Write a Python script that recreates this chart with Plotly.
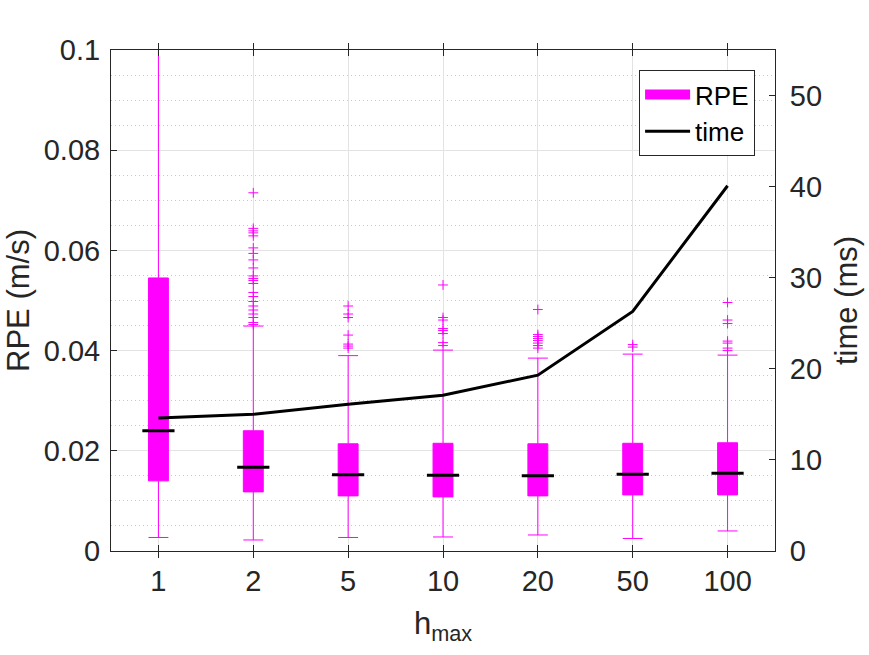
import plotly.graph_objects as go

# ---------------- data ----------------
h_max_labels = ['1', '2', '5', '10', '20', '50', '100']

rpe_lower = [0.0027, 0.0022, 0.0027, 0.0028, 0.0032, 0.0025, 0.0040]
rpe_q1 = [0.0140, 0.0118, 0.0110, 0.0108, 0.0110, 0.0112, 0.0112]
rpe_median = [0.0240, 0.0167, 0.0152, 0.0151, 0.0150, 0.0153, 0.0155]
rpe_q3 = [0.0545, 0.0240, 0.0214, 0.0215, 0.0214, 0.0215, 0.0216]
rpe_upper = [0.1120, 0.0449, 0.0390, 0.0401, 0.0385, 0.0393, 0.0391]

rpe_outliers = [
    [],
    [0.0715, 0.0644, 0.0639, 0.0635, 0.0629, 0.0605, 0.0594, 0.0581, 0.0565,
     0.0549, 0.0544, 0.0540, 0.0534, 0.0516, 0.0508, 0.0498, 0.0489, 0.0481,
     0.0473, 0.0466, 0.0456, 0.0452],
    [0.0489, 0.0473, 0.0466, 0.0431, 0.0413, 0.0409, 0.0405],
    [0.0531, 0.0466, 0.0461, 0.0444, 0.0440, 0.0434, 0.0416, 0.0410],
    [0.0482, 0.0432, 0.0428, 0.0424, 0.0420, 0.0415, 0.0410, 0.0405],
    [0.0412, 0.0407],
    [0.0496, 0.0461, 0.0454, 0.0419, 0.0415, 0.0405, 0.0400],
]

time_ms = [14.6, 15.0, 16.1, 17.1, 19.3, 26.3, 40.1]

# ---------------- style ----------------
MAGENTA = '#ff00ff'
AXC = '#262626'
FONT = 'Liberation Sans, Arial, Helvetica, sans-serif'

out_x, out_y = [], []
for lab, vals in zip(h_max_labels, rpe_outliers):
    out_x += [lab] * len(vals)
    out_y += vals

fig = go.Figure()

fig.add_trace(go.Box(
    x=h_max_labels, q1=rpe_q1, median=rpe_median, q3=rpe_q3,
    lowerfence=rpe_lower, upperfence=rpe_upper,
    boxpoints=False, width=0.21, whiskerwidth=1,
    fillcolor=MAGENTA, line=dict(color=MAGENTA, width=1),
    name='RPE', showlegend=False, hoverinfo='skip',
))

fig.add_trace(go.Scatter(
    x=h_max_labels, y=rpe_median, mode='markers',
    marker=dict(symbol='line-ew', size=23, line=dict(color='black', width=3)),
    showlegend=False, hoverinfo='skip',
))

fig.add_trace(go.Scatter(
    x=out_x, y=out_y, mode='markers',
    marker=dict(symbol='cross-thin', size=7, color=MAGENTA,
                line=dict(color=MAGENTA, width=1)),
    showlegend=False, hoverinfo='skip',
))

# legend entry for RPE (magenta patch)
fig.add_trace(go.Scatter(
    x=[None], y=[None], mode='lines', name='RPE',
    line=dict(color=MAGENTA, width=20),
))

fig.add_trace(go.Scatter(
    x=h_max_labels, y=time_ms, mode='lines', name='time',
    line=dict(color='black', width=3), yaxis='y2',
))

fig.update_layout(
    width=869, height=655,
    margin=dict(l=111, r=94, t=50, b=104),
    plot_bgcolor='white', paper_bgcolor='white',
    font=dict(family=FONT, color=AXC, size=29),
    xaxis=dict(
        type='category', range=[-0.5, 6.5],
        showline=True, linecolor=AXC, linewidth=1, mirror='allticks',
        ticks='inside', ticklen=6, tickcolor=AXC,
        showgrid=True, gridcolor='#e3e3e3', gridwidth=1,
        tickfont=dict(size=29), ticklabelstandoff=4,
        title=dict(text='h<sub>max</sub>', font=dict(size=31), standoff=16),
        zeroline=False,
    ),
    yaxis=dict(
        range=[0, 0.1], tickvals=[0, 0.02, 0.04, 0.06, 0.08, 0.1],
        ticktext=['0', '0.02', '0.04', '0.06', '0.08', '0.1'],
        showline=True, linecolor=AXC, linewidth=1,
        ticks='inside', ticklen=6, tickcolor=AXC,
        showgrid=True, gridcolor='#e3e3e3', gridwidth=1,
        minor=dict(dtick=0.005, showgrid=True, gridcolor='#c8c8c8',
                   griddash='1px,3px', gridwidth=1),
        zeroline=False, tickfont=dict(size=29), ticklabelstandoff=4,
        title=dict(text='RPE (m/s)', font=dict(size=31), standoff=4),
    ),
    yaxis2=dict(
        overlaying='y', side='right', anchor='x',
        range=[0, 55], tickvals=[0, 10, 20, 30, 40, 50],
        showline=True, linecolor=AXC, linewidth=1,
        ticks='inside', ticklen=6, tickcolor=AXC,
        showgrid=False, zeroline=False, tickfont=dict(size=29),
        ticklabelstandoff=8,
        title=dict(text='time (ms)', font=dict(size=31), standoff=14),
    ),
    legend=dict(
        x=0.97, y=0.96, xanchor='right', yanchor='top',
        bgcolor='white', bordercolor=AXC, borderwidth=1,
        font=dict(size=26, color='black'), itemwidth=45,
        tracegroupgap=0,
    ),
    showlegend=True,
)

fig.write_html('out.html')
